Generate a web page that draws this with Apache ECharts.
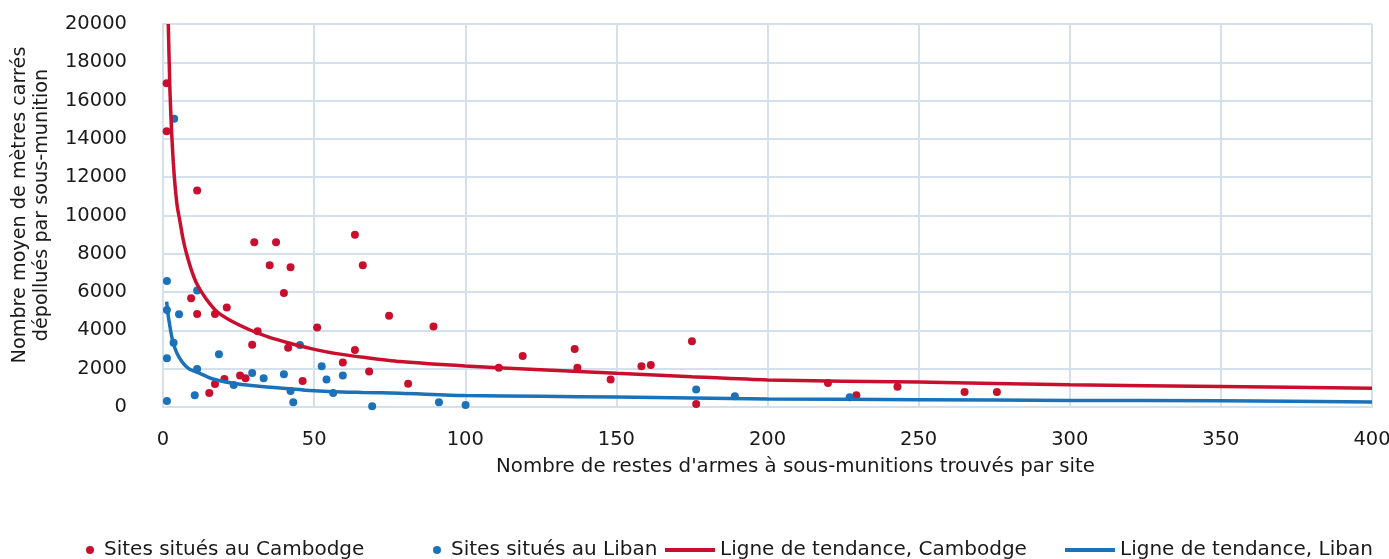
<!DOCTYPE html>
<html>
<head>
<meta charset="utf-8">
<script src="https://cdn.jsdelivr.net/npm/echarts@6/dist/echarts.min.js"></script>
<style>
  html, body { margin: 0; padding: 0; background: #ffffff; }
  #chart { width: 1389px; height: 559px; }
</style>
</head>
<body>
<div id="chart"></div>
<script>
// Sites: [remnants found per site, mean m² cleared per submunition]
const cambodgeSites = [
  [1.2, 16900], [1.2, 14400], [11.3, 11300], [30.2, 8600], [37.4, 8600],
  [35.3, 7400], [42.2, 7300], [63.5, 9000], [66.1, 7400], [40, 5950],
  [9.3, 5680], [11.3, 4850], [17.2, 4850], [21.1, 5200], [31.3, 3950],
  [29.5, 3250], [41.4, 3100], [51, 4150], [74.8, 4770], [63.5, 2980],
  [59.5, 2330], [68.2, 1850], [46.2, 1360], [25.5, 1640], [27.3, 1500],
  [20.3, 1460], [17.2, 1200], [15.3, 730], [89.5, 4200], [119, 2660],
  [136.2, 3030], [137.1, 2050], [111.1, 2050], [81.1, 1220], [148.1, 1430],
  [158.3, 2130], [161.4, 2190], [175, 3430], [176.4, 160], [220, 1250],
  [229.4, 610], [243, 1060], [265.2, 780], [275.9, 780]
];
const libanSites = [
  [3.7, 15050], [1.3, 6580], [11.3, 6090], [1.3, 5060], [5.3, 4840],
  [3.5, 3360], [1.3, 2540], [18.5, 2750], [11.3, 1980], [29.5, 1780],
  [23.4, 1150], [33.3, 1500], [10.5, 610], [1.3, 310], [40, 1710],
  [45.3, 3240], [52.5, 2130], [54.1, 1430], [59.5, 1640], [42.2, 840],
  [56.3, 730], [43.1, 250], [69.2, 40], [91.3, 250], [100.1, 100],
  [176.4, 920], [189.2, 560], [227.2, 510]
];
// Trend curves, sampled along x
const tendanceCambodge = [
  [1.75, 20000], [2.3, 16500], [2.87, 14300], [3.4, 12800], [3.97, 11600],
  [4.7, 10500], [5.6, 9700], [6.6, 8800], [7.8, 8000], [9.3, 7200],
  [11.1, 6460], [14, 5700], [17.7, 5000], [22.5, 4500], [28.8, 4020],
  [35, 3650], [42, 3330], [49, 3050], [56.9, 2800], [67, 2580],
  [78.4, 2370], [100, 2140], [125, 1950], [150, 1760], [175, 1580],
  [200, 1410], [250, 1300], [300, 1160], [350, 1070], [400, 975]
];
const tendanceLiban = [
  [1.2, 5500], [1.7, 4800], [2.3, 4200], [2.8, 3750], [3.4, 3330],
  [4.5, 2850], [5.5, 2550], [6.7, 2280], [8.5, 2000], [10.2, 1880],
  [12.2, 1760], [16, 1490], [23.2, 1240], [30, 1110], [39.7, 980],
  [47, 880], [56.3, 800], [66, 760], [78.4, 715], [100, 600],
  [125, 560], [150, 520], [175, 470], [200, 420], [250, 385],
  [300, 345], [350, 320], [400, 265]
];
const xTicks = { min: 0, max: 400, step: 50 };
const yTicks = { min: 0, max: 20000, step: 2000 };

const names = [
  'Sites situés au Cambodge',
  'Sites situés au Liban',
  'Ligne de tendance, Cambodge',
  'Ligne de tendance, Liban'
];
const RED = '#c8102e';
const BLUE = '#1b72b9';
const GRID = '#d4e0ec';
const TEXT = '#1a1a1a';
const FONT = 'DejaVu Sans';

const legendBase = {
  orient: 'horizontal',
  top: 540,
  padding: 0,
  textStyle: { fontFamily: FONT, fontSize: 20, color: TEXT },
  selectedMode: false
};

const chart = echarts.init(document.getElementById('chart'), null, { renderer: 'canvas' });
chart.setOption({
  animation: false,
  backgroundColor: '#ffffff',
  textStyle: { fontFamily: FONT },
  grid: { left: 163, right: 17, top: 24, bottom: 152, outerBoundsMode: 'none' },
  legend: [
    Object.assign({}, legendBase, { left: 86, data: [{ name: names[0], icon: 'circle' }], itemWidth: 18, itemHeight: 8 }),
    Object.assign({}, legendBase, { left: 433, data: [{ name: names[1], icon: 'circle' }], itemWidth: 18, itemHeight: 8 }),
    Object.assign({}, legendBase, { left: 665, data: [{ name: names[2], icon: 'rect' }], itemWidth: 50, itemHeight: 4 }),
    Object.assign({}, legendBase, { left: 1065, data: [{ name: names[3], icon: 'rect' }], itemWidth: 50, itemHeight: 4 })
  ],
  xAxis: {
    type: 'value',
    min: xTicks.min, max: xTicks.max, interval: xTicks.step,
    name: 'Nombre de restes d\'armes à sous-munitions trouvés par site',
    nameLocation: 'middle',
    nameGap: 50,
    nameTextStyle: { fontFamily: FONT, fontSize: 19.8, color: TEXT, padding: [0, 0, 0, 56] },
    axisLine: { show: true, lineStyle: { color: GRID, width: 2 } },
    axisTick: { show: false },
    axisLabel: { fontFamily: FONT, fontSize: 19.5, color: TEXT, margin: 23 },
    splitLine: { show: true, lineStyle: { color: GRID, width: 2 } }
  },
  yAxis: {
    type: 'value',
    min: yTicks.min, max: yTicks.max, interval: yTicks.step,
    name: 'Nombre moyen de mètres carrés\ndépollués par sous-munition',
    nameLocation: 'middle',
    nameRotate: 90,
    nameGap: 110,
    nameTextStyle: { fontFamily: FONT, fontSize: 19.2, color: TEXT, lineHeight: 22, padding: [0, 0, 0, 21] },
    axisLine: { show: true, lineStyle: { color: GRID, width: 2 } },
    axisTick: { show: false },
    axisLabel: { fontFamily: FONT, fontSize: 19.5, color: TEXT, margin: 36, formatter: v => String(v) },
    splitLine: { show: true, lineStyle: { color: GRID, width: 2 } }
  },
  series: [
    {
      name: names[0], type: 'scatter', data: cambodgeSites,
      symbol: 'circle', symbolSize: 8, itemStyle: { color: RED, opacity: 1 }, z: 3
    },
    {
      name: names[1], type: 'scatter', data: libanSites,
      symbol: 'circle', symbolSize: 8, itemStyle: { color: BLUE, opacity: 1 }, z: 3
    },
    {
      name: names[2], type: 'line', data: tendanceCambodge,
      showSymbol: false, symbol: 'none', smooth: 0.25, clip: true,
      lineStyle: { color: RED, width: 3.5 }, itemStyle: { color: RED }, z: 4
    },
    {
      name: names[3], type: 'line', data: tendanceLiban,
      showSymbol: false, symbol: 'none', smooth: 0.25, clip: true,
      lineStyle: { color: BLUE, width: 3.5 }, itemStyle: { color: BLUE }, z: 4
    }
  ]
});
</script>
</body>
</html>
